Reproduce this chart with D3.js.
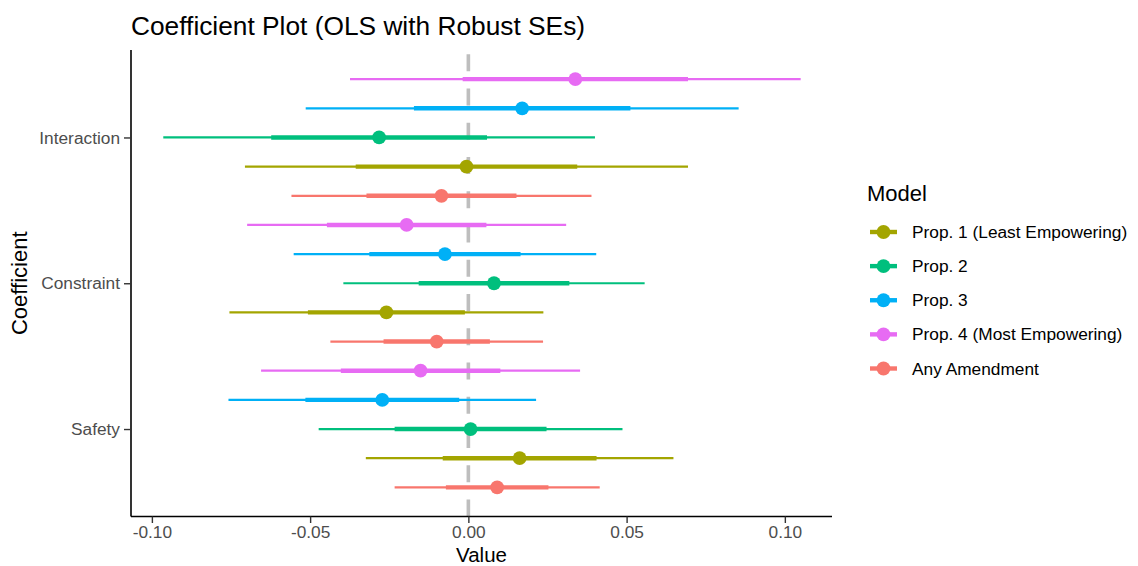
<!DOCTYPE html>
<html><head><meta charset="utf-8">
<script src="https://cdn.jsdelivr.net/npm/d3@7"></script>
<style>
body{margin:0;background:#fff}
text{font-family:"Liberation Sans",Arial,Helvetica,sans-serif}
</style>
</head><body>
<svg id="c" width="1138" height="566"></svg>
<script>
// ---- data ----
const coefficients = ["Interaction", "Constraint", "Safety"];
const models = ["Prop. 1 (Least Empowering)", "Prop. 2", "Prop. 3", "Prop. 4 (Most Empowering)", "Any Amendment"];
const modelColors = ["#A3A500", "#00BF7D", "#00B0F6", "#E76BF3", "#F8766D"];
// estimates per model, in coefficient order (Interaction, Constraint, Safety)
const estProp1 = [-0.0006, -0.0259, 0.0162];
const estProp2 = [-0.0282, 0.0081, 0.0007];
const estProp3 = [0.0170, -0.0074, -0.0272];
const estProp4 = [0.0338, -0.0195, -0.0151];
const estAny   = [-0.0085, -0.0100, 0.0091];
// robust standard errors
const seProp1 = [0.0350, 0.0248, 0.0243];
const seProp2 = [0.0341, 0.0238, 0.0240];
const seProp3 = [0.0342, 0.0239, 0.0243];
const seProp4 = [0.0356, 0.0252, 0.0252];
const seAny   = [0.0237, 0.0168, 0.0162];
const xTicks = [-0.10, -0.05, 0.00, 0.05, 0.10];
const xTickLabels = ["-0.10", "-0.05", "0.00", "0.05", "0.10"];

const estimates = [estProp1, estProp2, estProp3, estProp4, estAny];
const ses = [seProp1, seProp2, seProp3, seProp4, seAny];
const rows = [];
models.forEach((m, i) => coefficients.forEach((c, j) => {
  rows.push({model: m, coef: c, est: estimates[i][j], se: ses[i][j]});
}));

// ---- layout ----
const svg = d3.select("#c");
svg.append("rect").attr("width", 1138).attr("height", 566).attr("fill", "#fff");
const L = 131, R = 832, T = 50, B = 516.5;

const x = d3.scaleLinear().domain([-0.1066, 0.1149]).range([L, R]);
const y = d3.scalePoint().domain(coefficients).range([T, B]).padding(0.6);
const step = y.step();
const dodge = d3.scalePoint()
  .domain(["Prop. 4 (Most Empowering)", "Prop. 3", "Prop. 2", "Prop. 1 (Least Empowering)", "Any Amendment"])
  .range([-0.4 * step, 0.4 * step]);
const color = d3.scaleOrdinal().domain(models).range(modelColors);

// zero line (drawn bottom to top, dashed)
svg.append("line")
  .attr("x1", x(0)).attr("x2", x(0)).attr("y1", B).attr("y2", T)
  .attr("stroke", "#BEBEBE").attr("stroke-width", 3.6)
  .attr("stroke-dasharray", "17 17.25");

const g = svg.append("g");
const ry = d => y(d.coef) + dodge(d.model);
// outer (2 SE)
g.selectAll("line.outer").data(rows).join("line").attr("class", "outer")
  .attr("x1", d => x(d.est - 2 * d.se)).attr("x2", d => x(d.est + 2 * d.se))
  .attr("y1", ry).attr("y2", ry)
  .attr("stroke", d => color(d.model)).attr("stroke-width", 2.2);
// inner (1 SE)
g.selectAll("line.inner").data(rows).join("line").attr("class", "inner")
  .attr("x1", d => x(d.est - d.se)).attr("x2", d => x(d.est + d.se))
  .attr("y1", ry).attr("y2", ry)
  .attr("stroke", d => color(d.model)).attr("stroke-width", 4.4);
g.selectAll("circle").data(rows).join("circle")
  .attr("cx", d => x(d.est)).attr("cy", ry).attr("r", 6.9)
  .attr("fill", d => color(d.model));

// axes
const xAxis = d3.axisBottom(x).tickValues(xTicks).tickFormat((d, i) => xTickLabels[i])
  .tickSize(6.5).tickPadding(3);
const gx = svg.append("g").attr("transform", `translate(0,${B})`).call(xAxis);
gx.select(".domain").attr("stroke", "#000").attr("stroke-width", 1.6).attr("d", `M${L},0H${R}`);
gx.selectAll(".tick line").attr("stroke", "#333").attr("stroke-width", 1.4);
gx.selectAll(".tick text").attr("fill", "#4D4D4D").attr("font-size", 17.3);

const yAxis = d3.axisLeft(y).tickSize(7).tickPadding(4);
const gy = svg.append("g").attr("transform", `translate(${L},0)`).call(yAxis);
gy.select(".domain").attr("stroke", "#000").attr("stroke-width", 1.6).attr("d", `M0,${T}V${B}`);
gy.selectAll(".tick line").attr("stroke", "#333").attr("stroke-width", 1.4);
gy.selectAll(".tick text").attr("fill", "#4D4D4D").attr("font-size", 17.3);

// titles
svg.append("text").attr("x", L).attr("y", 35).attr("font-size", 26.3).attr("fill", "#000")
  .text("Coefficient Plot (OLS with Robust SEs)");
svg.append("text").attr("x", (L + R) / 2).attr("y", 561.5).attr("text-anchor", "middle")
  .attr("font-size", 20.5).attr("fill", "#000").text("Value");
svg.append("text").attr("transform", `translate(27,${(T + B) / 2}) rotate(-90)`)
  .attr("text-anchor", "middle").attr("font-size", 22).attr("fill", "#000").text("Coefficient");

// legend
const lg = svg.append("g");
lg.append("text").attr("x", 867).attr("y", 200.5).attr("font-size", 22).attr("fill", "#000").text("Model");
const legendY = d3.scalePoint().domain(models).range([232, 368.5]);
const items = lg.selectAll("g.item").data(models).join("g").attr("class", "item")
  .attr("transform", d => `translate(0,${legendY(d)})`);
items.append("line").attr("x1", 870).attr("x2", 897).attr("stroke", d => color(d)).attr("stroke-width", 4.4);
items.append("circle").attr("cx", 883.5).attr("r", 6.9).attr("fill", d => color(d));
items.append("text").attr("x", 912).attr("y", 6).attr("font-size", 17.3).attr("fill", "#000").text(d => d);
</script>
</body></html>
